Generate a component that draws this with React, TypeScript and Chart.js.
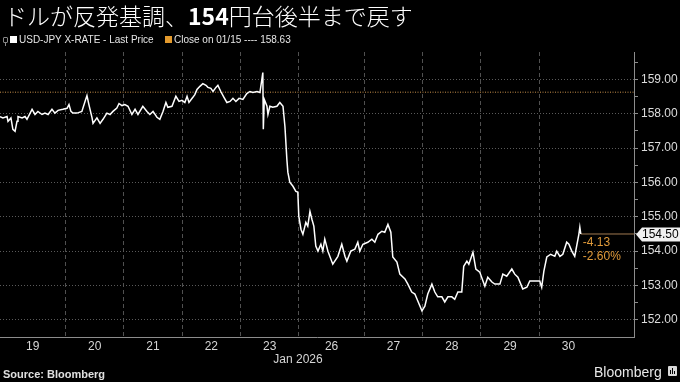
import React, { useEffect, useRef } from 'react';
import { Chart, registerables } from 'chart.js';
Chart.register(...registerables);

// ---- data ----
const titlePre = 'ドルが反発基調、';
const titleBold = '154';
const titlePost = '円台後半まで戻す';
const seriesLabel = 'USD-JPY X-RATE - Last Price';
const refLabel = 'Close on 01/15';
const closeRef = 158.63;
const monthLabel = 'Jan 2026';
const sourceLabel = 'Source: Bloomberg';

// trading hours since the open of Jan 19 (Mondays include the Sunday-evening open)
const hours = [
  0, 1.2, 2.9, 3.3, 4.5, 5.3, 6.2, 7.0, 7.4, 9.1,
  10.3, 11.1, 13.2, 14.4, 15.6, 17.3, 18.5, 19.8, 21.4, 22.6,
  23.9, 25.9, 27.6, 28.4, 29.2, 30.0, 31.7, 33.7, 35.0, 35.8,
  36.6, 37.9, 38.3, 39.9, 41.2, 42.4, 44.0, 45.3, 46.5, 48.1,
  49.0, 50.2, 51.4, 52.7, 54.3, 55.6, 56.8, 58.8, 60.5, 61.7,
  63.0, 64.6, 65.8, 67.1, 68.3, 69.1, 70.8, 72.4, 73.7, 74.9,
  76.1, 77.0, 77.8, 79.4, 80.2, 81.1, 82.3, 83.5, 84.8, 85.6,
  86.8, 87.7, 88.9, 89.7, 90.9, 92.2, 93.4, 94.7, 95.9, 97.1,
  98.4, 100.0, 101.6, 102.9, 104.1, 105.8, 107.0, 107.8, 108.2, 108.4,
  108.8, 109.9, 110.3, 111.1, 112.3, 114.0, 115.2, 116.5, 117.3, 118.1,
  118.5, 119.3, 120.6, 121.8, 122.6, 123.0, 123.9, 124.7, 125.9, 126.7,
  127.6, 128.4, 129.2, 130.0, 130.9, 132.1, 132.9, 133.7, 135.0, 137.0,
  139.1, 140.7, 142.0, 142.8, 144.4, 146.1, 147.3, 148.1, 149.4, 151.4,
  153.1, 154.3, 155.6, 157.2, 158.4, 159.7, 160.9, 161.7, 163.4, 164.6,
  166.7, 167.9, 169.5, 170.8, 172.0, 173.7, 174.9, 176.1, 177.8, 179.0,
  180.2, 181.9, 183.1, 184.4, 186.0, 187.2, 188.5, 190.1, 190.9, 192.2,
  193.0, 194.7, 195.9, 197.5, 199.6, 200.8, 202.5, 203.7, 205.8, 207.0,
  208.6, 210.7, 211.9, 213.2, 214.4, 215.2, 216.9, 218.1, 220.2, 222.2,
  223.0, 223.9, 225.1, 226.7, 228.4, 229.2, 230.5, 231.7, 233.3, 234.2,
  235.4, 236.6, 237.4, 238.3, 238.7, 239.1,
];
const prices = [
  157.92, 157.88, 157.92, 157.78, 157.88, 157.55, 157.49, 157.78, 157.92, 157.88,
  157.92, 157.84, 158.13, 157.98, 158.07, 157.98, 158.02, 157.98, 158.13, 158.02,
  158.10, 158.13, 158.16, 158.27, 158.07, 158.02, 158.02, 158.07, 158.36, 158.53,
  158.27, 157.88, 157.72, 157.88, 157.72, 157.84, 158.02, 157.98, 158.07, 158.17,
  158.30, 158.24, 158.27, 158.22, 157.98, 158.13, 157.98, 158.22, 158.07, 157.98,
  158.07, 157.90, 157.84, 158.07, 158.33, 158.19, 158.22, 158.51, 158.36, 158.39,
  158.33, 158.51, 158.33, 158.48, 158.56, 158.71, 158.80, 158.88, 158.83, 158.77,
  158.74, 158.65, 158.77, 158.83, 158.65, 158.48, 158.33, 158.36, 158.45, 158.36,
  158.45, 158.42, 158.59, 158.65, 158.62, 158.65, 158.62, 159.00, 159.20, 157.55,
  158.42, 158.22, 157.98, 158.22, 158.19, 158.22, 158.33, 158.22, 157.63, 156.67,
  156.30, 156.01, 155.89, 155.74, 155.72, 155.02, 154.64, 154.49, 154.84, 154.73,
  155.16, 154.93, 154.73, 154.15, 154.00, 154.20, 154.00, 154.35, 154.00, 153.62,
  153.85, 154.20, 153.85, 153.71, 154.00, 154.06, 154.26, 154.00, 154.20, 154.26,
  154.35, 154.26, 154.49, 154.58, 154.55, 154.78, 154.55, 153.83, 153.68, 153.33,
  153.19, 153.04, 152.81, 152.75, 152.55, 152.26, 152.40, 152.75, 153.04, 152.81,
  152.67, 152.67, 152.52, 152.67, 152.67, 152.60, 152.81, 152.81, 153.56, 153.71,
  153.62, 153.97, 153.48, 153.39, 152.98, 153.24, 153.10, 153.04, 153.04, 153.33,
  153.27, 153.48, 153.33, 153.24, 153.04, 152.90, 152.95, 153.13, 153.13, 153.13,
  152.95, 153.42, 153.83, 153.91, 153.85, 154.00, 153.85, 153.91, 154.26, 154.20,
  154.00, 153.85, 154.15, 154.49, 154.70, 154.50,
];

const dayLabels = ['19', '20', '21', '22', '23', '26', '27', '28', '29', '30'];
const dayStarts = [0, 27, 51, 75, 99, 123, 150, 174, 198, 222];
const lastDayEnd = 246;
const xMax = 261;
const yMin = 151.5;
const yMax = 159.8;
const yTickValues = [152, 152.5, 153, 153.5, 154, 154.5, 155, 155.5, 156, 156.5, 157, 157.5, 158, 158.5, 159, 159.5];

const AXIS_FONT = "'Liberation Sans', Arial, sans-serif";

export default function App() {
  const ref = useRef<HTMLCanvasElement>(null);

  useEffect(() => {
    document.body.style.margin = '0';
    document.body.style.background = '#000';
    const boundaries = dayStarts.slice(1);
    const centers = dayStarts.map((s, i) => (s + (i + 1 < dayStarts.length ? dayStarts[i + 1] : lastDayEnd)) / 2);
    const lastH = hours[hours.length - 1];
    const last = prices[prices.length - 1];
    const change = last - closeRef;
    const pct = (change / closeRef) * 100;

    const tagPlugin = {
      id: 'lastTag',
      afterDraw(chart: any) {
        const { ctx, scales, chartArea } = chart;
        const x = scales.x;
        const y = scales.y;
        const py = Math.round(y.getPixelForValue(last)) + 0.5;
        const left = chartArea.right + 2;
        ctx.save();
        ctx.fillStyle = '#f0f0f0';
        ctx.beginPath();
        ctx.moveTo(left, py);
        ctx.lineTo(left + 6, py - 7);
        ctx.lineTo(680, py - 7);
        ctx.lineTo(680, py + 7);
        ctx.lineTo(left + 6, py + 7);
        ctx.closePath();
        ctx.fill();
        ctx.fillStyle = '#000';
        ctx.font = `12px ${AXIS_FONT}`;
        ctx.textBaseline = 'middle';
        ctx.textAlign = 'left';
        ctx.fillText(last.toFixed(2), left + 6, py + 0.5);
        const px = x.getPixelForValue(lastH);
        ctx.fillStyle = '#e09a3a';
        ctx.fillText(change.toFixed(2), px + 2, py + 8);
        ctx.fillText(pct.toFixed(2) + '%', px + 2, py + 22);
        ctx.restore();
      },
    };

    const chart = new Chart(ref.current as HTMLCanvasElement, {
      type: 'line',
      data: {
        datasets: [
          {
            data: hours.map((h, i) => ({ x: h, y: prices[i] })),
            borderColor: '#ffffff',
            borderWidth: 1.5,
            pointRadius: 0,
            tension: 0,
            order: 0,
          },
          {
            data: [{ x: 0, y: closeRef }, { x: xMax, y: closeRef }],
            borderColor: '#c8904a',
            borderWidth: 1,
            borderDash: [1, 1.5],
            pointRadius: 0,
            order: 2,
          },
          {
            data: [{ x: lastH, y: last }, { x: xMax, y: last }],
            borderColor: '#a07a50',
            borderWidth: 1,
            pointRadius: 0,
            order: 1,
          },
        ],
      },
      options: {
        responsive: false,
        animation: false,
        devicePixelRatio: 1,
        layout: { padding: { top: 52, left: 0, right: 0, bottom: 0 } },
        plugins: { legend: { display: false }, tooltip: { enabled: false } },
        scales: {
          x: {
            type: 'linear',
            min: 0,
            max: xMax,
            afterBuildTicks: (s: any) => {
              s.ticks = [...boundaries, ...centers].sort((a, b) => a - b).map((v) => ({ value: v }));
            },
            afterFit: (s: any) => {
              s.height = 45;
            },
            ticks: {
              autoSkip: false,
              maxRotation: 0,
              padding: 2,
              color: '#d6d6d6',
              font: { family: AXIS_FONT, size: 12 },
              callback: (v: any) => {
                const i = centers.indexOf(Number(v));
                return i >= 0 ? dayLabels[i] : '';
              },
            },
            grid: {
              color: (c: any) => (c.tick && boundaries.includes(c.tick.value) ? '#505050' : 'transparent'),
              drawTicks: false,
              lineWidth: 1,
            },
            border: { display: true, color: '#8c8c8c', width: 1, dash: [4, 3] },
          },
          y: {
            type: 'linear',
            position: 'right',
            min: yMin,
            max: yMax,
            afterBuildTicks: (s: any) => {
              s.ticks = yTickValues.map((v) => ({ value: v }));
            },
            afterFit: (s: any) => {
              s.width = 46;
            },
            ticks: {
              autoSkip: false,
              padding: 3,
              color: '#dcdcdc',
              font: { family: AXIS_FONT, size: 12 },
              callback: (v: any) => (Number.isInteger(Number(v)) ? Number(v).toFixed(2) : ''),
            },
            grid: {
              color: (c: any) => (c.tick && Number.isInteger(c.tick.value) ? '#5a5a5a' : 'transparent'),
              tickColor: '#8c8c8c',
              tickLength: 4,
              drawTicks: true,
              lineWidth: 1,
            },
            border: { display: true, color: '#8c8c8c', width: 1, dash: [1, 2] },
          },
        },
      },
      plugins: [tagPlugin],
    } as any);
    return () => chart.destroy();
  }, []);

  const legendText: React.CSSProperties = {
    position: 'absolute',
    top: 34,
    fontFamily: AXIS_FONT,
    fontSize: 10,
    lineHeight: '12px',
    color: '#e6e6e6',
    whiteSpace: 'nowrap',
  };

  return (
    <div style={{ position: 'fixed', left: 0, top: 0, width: 680, height: 382, background: '#000', overflow: 'hidden' }}>
      <canvas ref={ref} width={680} height={382} style={{ position: 'absolute', left: 0, top: 0, width: 680, height: 382 }} />
      <div
        style={{
          position: 'absolute',
          left: 4,
          top: 3,
          fontFamily: "'Noto Sans CJK JP', 'Noto Sans', sans-serif",
          fontSize: 23,
          lineHeight: '25px',
          fontWeight: 300,
          color: '#ffffff',
          whiteSpace: 'nowrap',
        }}
      >
        {titlePre}
        <span style={{ fontWeight: 700 }}>{titleBold}</span>
        {titlePost}
      </div>
      <div style={{ position: 'absolute', left: 3, top: 37, width: 3, height: 4, border: '1px solid #888', borderRadius: 1 }} />
      <div style={{ position: 'absolute', left: 4.5, top: 42, width: 1, height: 4, background: '#888' }} />
      <div style={{ position: 'absolute', left: 10, top: 36, width: 7, height: 7, background: '#ffffff' }} />
      <div style={{ ...legendText, left: 19 }}>{seriesLabel}</div>
      <div style={{ position: 'absolute', left: 165, top: 36, width: 7, height: 7, background: '#e39a2d' }} />
      <div style={{ ...legendText, left: 174 }}>{`${refLabel} ---- ${closeRef.toFixed(2)}`}</div>
      <div
        style={{
          position: 'absolute',
          left: 248,
          width: 100,
          top: 352,
          textAlign: 'center',
          fontFamily: AXIS_FONT,
          fontSize: 12,
          lineHeight: '14px',
          color: '#d6d6d6',
        }}
      >
        {monthLabel}
      </div>
      <div
        style={{
          position: 'absolute',
          left: 3,
          top: 368,
          fontFamily: AXIS_FONT,
          fontWeight: 700,
          fontSize: 11,
          lineHeight: '13px',
          color: '#e0e0e0',
        }}
      >
        {sourceLabel}
      </div>
      <div
        style={{
          position: 'absolute',
          left: 594,
          top: 364,
          fontFamily: AXIS_FONT,
          fontSize: 14,
          lineHeight: '16px',
          color: '#e8e8e8',
        }}
      >
        Bloomberg
      </div>
      <div style={{ position: 'absolute', left: 668, top: 366, width: 9, height: 10, background: '#d8d8d8', borderRadius: 1 }}>
        <div style={{ position: 'absolute', left: 2, top: 4, width: 1, height: 4, background: '#000' }} />
        <div style={{ position: 'absolute', left: 4, top: 2, width: 1, height: 6, background: '#000' }} />
        <div style={{ position: 'absolute', left: 6, top: 5, width: 1, height: 3, background: '#000' }} />
      </div>
    </div>
  );
}
